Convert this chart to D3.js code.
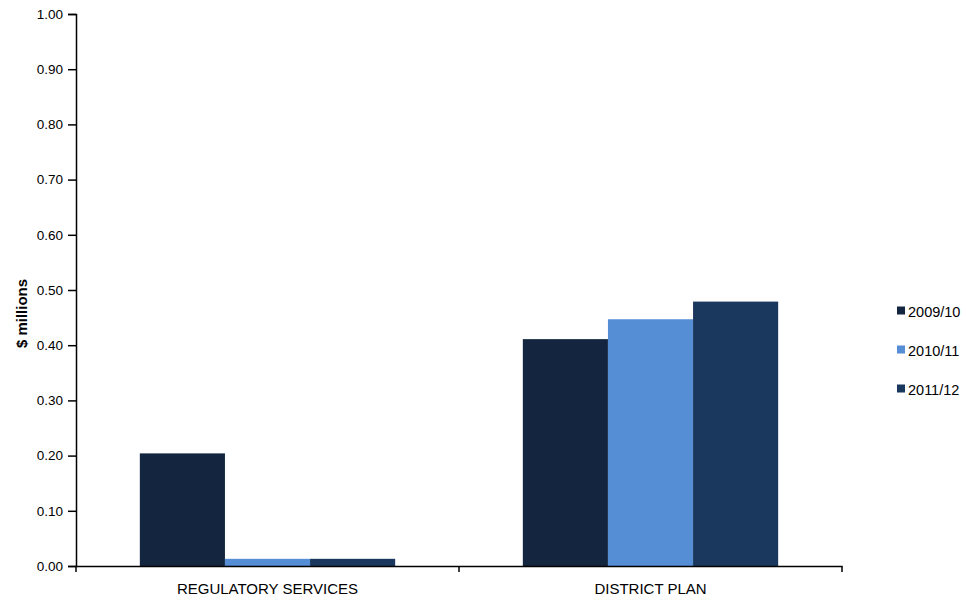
<!DOCTYPE html>
<html><head><meta charset="utf-8">
<script src="https://cdn.jsdelivr.net/npm/d3@7"></script>
<style>body{margin:0;background:#fff}svg{display:block}text{font-family:"Liberation Sans",Arial,sans-serif}</style>
</head><body><svg id="c" width="966" height="601"></svg>
<script>
const categories = ["REGULATORY SERVICES", "DISTRICT PLAN"];
const seriesNames = ["2009/10", "2010/11", "2011/12"];
const v2009 = [0.204, 0.411];
const v2010 = [0.013, 0.447];
const v2011 = [0.013, 0.479];
const yTicks = [0,0.1,0.2,0.3,0.4,0.5,0.6,0.7,0.8,0.9,1.0];
const colors = ["#14263f", "#558ed5", "#1a375e"];
const seriesVals = [v2009, v2010, v2011];

const FF = '"Liberation Sans",Arial,sans-serif';
const svg = d3.select("#c");
const L = 76, R = 842, T = 14, B = 566;
const x = d3.scaleBand().domain(categories).range([L, R]);
const y = d3.scaleLinear().domain([0, 1]).range([B, T]);
const inner = d3.scaleBand().domain(seriesNames).range([0, x.bandwidth()]).paddingOuter(0.75).paddingInner(0);

seriesNames.forEach((s, i) => {
  svg.append("g").selectAll("rect").data(categories).join("rect")
    .attr("x", c => x(c) + inner(s))
    .attr("width", inner.bandwidth())
    .attr("y", (c, j) => y(seriesVals[i][j]))
    .attr("height", (c, j) => B - y(seriesVals[i][j]))
    .attr("fill", colors[i]);
});

const ya = svg.append("g").attr("transform", `translate(${L},0)`)
  .call(d3.axisLeft(y).tickValues(yTicks).tickFormat(d3.format(".2f")).tickSize(8).tickPadding(5));
ya.selectAll("text").attr("font-size", 13.5).attr("fill", "#000").style("font-family", FF);
ya.select(".domain").attr("stroke", "#000").attr("stroke-width", 1.5);
ya.selectAll(".tick line").attr("stroke", "#000").attr("stroke-width", 1.5);

const xa = svg.append("g").attr("transform", `translate(0,${B})`)
  .call(d3.axisBottom(x).tickSize(0).tickPadding(17));
xa.select(".domain").attr("stroke", "#000").attr("stroke-width", 1.5);
xa.selectAll("text").attr("font-size", 15).attr("fill", "#000").style("font-family", FF);
const bounds = [L, ...categories.map(c => x(c) + x.bandwidth())];
svg.append("g").selectAll("line").data(bounds).join("line")
  .attr("x1", d => d).attr("x2", d => d).attr("y1", B).attr("y2", B + 6)
  .attr("stroke", "#000").attr("stroke-width", 1.5);

svg.append("text").attr("transform", `translate(27,313.5) rotate(-90)`)
  .attr("text-anchor", "middle").attr("font-size", 15).attr("font-weight", "bold").text("$ millions");

const lg = svg.append("g");
seriesNames.forEach((s, i) => {
  const yy = 310.5 + i * 39;
  lg.append("rect").attr("x", 897).attr("y", yy - 4).attr("width", 8).attr("height", 8).attr("fill", colors[i]);
  lg.append("text").attr("x", 908).attr("y", yy + 6.5).attr("font-size", 14.5).text(s);
});
</script></body></html>
